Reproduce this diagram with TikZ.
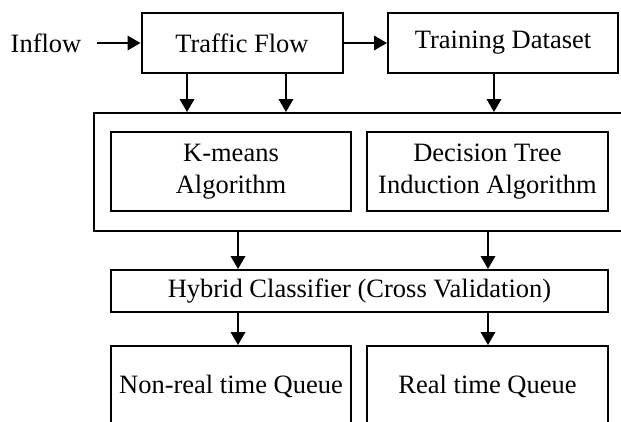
\documentclass[tikz,border=0pt]{standalone}
\usepackage{fontspec}
\setmainfont{Liberation Serif}
\usetikzlibrary{arrows.meta}
\begin{document}
\begin{tikzpicture}[x=1pt,y=-1pt,
  box/.style={draw, line width=2pt, inner sep=0pt, align=center, font=\fontsize{26.5}{32}\selectfont},
  lbl/.style={inner sep=0pt, font=\fontsize{26.5}{32}\selectfont},
  arr/.style={line width=2pt, -{Triangle[length=13pt,width=14.5pt]}}]
\clip (0,0) rectangle (621,421);
\fill[white] (0,0) rectangle (621,421);
% top row
\node[lbl] (inflow) at (46,43) {Inflow};
\node[box, minimum width=201pt, minimum height=60pt] (tf) at (242,43) {Traffic Flow};
\node[box, minimum width=230pt, minimum height=60pt] (td) at (503,43) {Training Dataset};
% container and algorithm boxes
\node[draw, line width=2pt, inner sep=0pt, minimum width=536pt, minimum height=118pt] (big) at (362,172) {};
\node[box, minimum width=240pt, minimum height=79pt] (km) at (231,171.5) {K-means\\Algorithm};
\node[box, minimum width=241pt, minimum height=79pt] (dt) at (487.5,171.5) {Decision Tree\\Induction Algorithm};
% hybrid
\node[box, minimum width=497pt, minimum height=42pt] (hy) at (359.5,291) {Hybrid Classifier (Cross Validation)};
% queues
\node[box, minimum width=240pt, minimum height=80pt] (nrt) at (231,386) {Non-real time Queue};
\node[box, minimum width=241pt, minimum height=80pt] (rt) at (487.5,386) {Real time Queue};
% helper x positions
\coordinate (a1) at (187,0);
\coordinate (a2) at (286,0);
\coordinate (a3) at (494,0);
\coordinate (b1) at (238,0);
\coordinate (b2) at (488,0);
% connectors
\draw[arr] ([xshift=15pt]inflow.east) -- (tf.west);
\draw[arr] (tf.east) -- (td.west);
\draw[arr] (tf.south -| a1) -- (big.north -| a1);
\draw[arr] (tf.south -| a2) -- (big.north -| a2);
\draw[arr] (td.south -| a3) -- (big.north -| a3);
\draw[arr] (big.south -| b1) -- (hy.north -| b1);
\draw[arr] (big.south -| b2) -- (hy.north -| b2);
\draw[arr] (hy.south -| b1) -- (nrt.north -| b1);
\draw[arr] (hy.south -| b2) -- (rt.north -| b2);
\end{tikzpicture}
\end{document}
